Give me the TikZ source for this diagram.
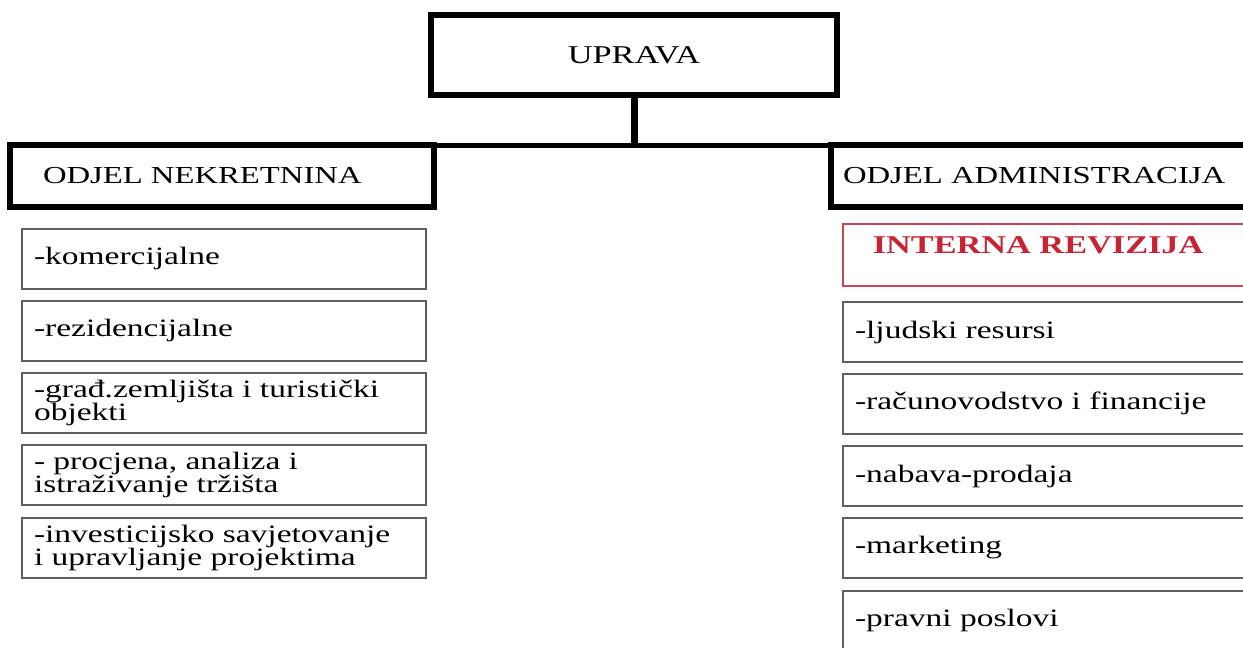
\documentclass[tikz,border=0pt]{standalone}
\usepackage{fontspec}
\setmainfont{Liberation Serif}[FakeStretch=1.34]
\definecolor{itemline}{RGB}{95,95,95}
\definecolor{revred}{RGB}{200,35,50}
\begin{document}
\begin{tikzpicture}[x=0.5pt,y=-0.5pt,
    head/.style={draw,line width=3.25pt,outer sep=0pt,minimum height=31pt,
      font=\fontsize{12.2}{12}\selectfont},
    item/.style={draw=itemline,line width=1pt,anchor=west,minimum height=30pt,
      inner xsep=6pt,text width=190pt,align=left,
      font=\fontsize{12.5}{11.5}\selectfont}]
    \useasboundingbox (0,0) rectangle (1243,648);
    \clip (0,0) rectangle (1243,648);
    \node[head,minimum width=203pt,minimum height=40pt,font=\fontsize{12.8}{12}\selectfont] (uprava) at (634,55) {UPRAVA};
    \node[head,anchor=west,inner xsep=16.5pt,text width=179pt,align=left] (nekretnine) at (10,176) {ODJEL NEKRETNINA};
    \node[head,anchor=west,inner xsep=6pt,text width=208pt,align=left] (administracija) at (831,176) {ODJEL ADMINISTRACIJA};
    \coordinate (split) at (uprava.south |- nekretnine.north);
    \draw[line width=3.5pt] (uprava.south) -- (split);
    \draw[line width=2.5pt] (nekretnine.north east) -- (administracija.north west);
    \foreach \n/\yc/\txt in {1/258.5/-komercijalne, 2/330.5/-rezidencijalne,
        3/402.5/{-građ.zemljišta i turistički\\objekti},
        4/475/{- procjena, analiza i\\istraživanje tržišta},
        5/547.5/{-investicijsko savjetovanje\\i upravljanje projektima}}
      \node[item] (lijevo\n) at (21,\yc) {\txt};
    \node[item,draw=revred!85,line width=0.8pt,minimum height=31pt,inner xsep=15pt,text width=195pt,
      text height=8pt,text depth=10pt,text=revred,font=\fontsize{12.8}{12}\selectfont\bfseries] (revizija) at (842,255) {INTERNA REVIZIJA};
    \foreach \n/\yc/\txt in {1/332/-ljudski resursi, 2/403.5/-računovodstvo i financije,
        3/476/-nabava-prodaja, 4/547.5/-marketing, 5/620.5/-pravni poslovi}
      \node[item,text width=210pt] (desno\n) at (842,\yc) {\txt};
\end{tikzpicture}
\end{document}
